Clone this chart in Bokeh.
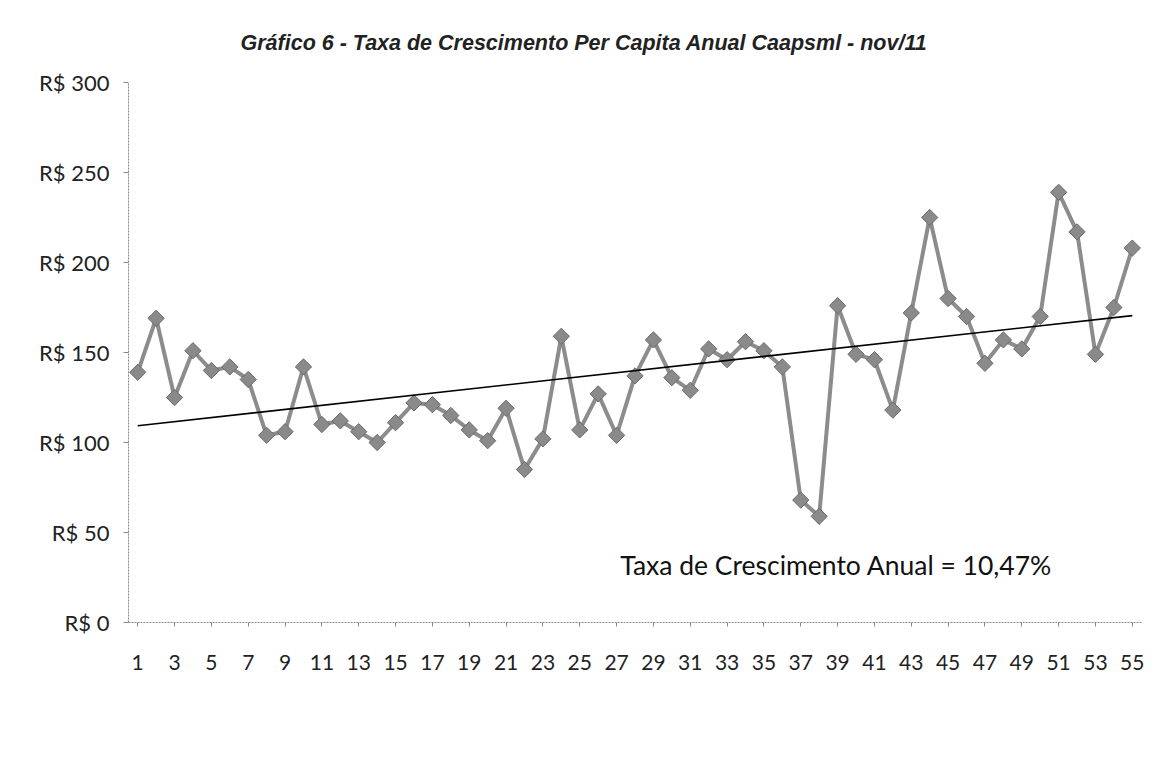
import numpy as np
from bokeh.plotting import figure
from bokeh.models import Range1d, FixedTicker, Label, ColumnDataSource
from bokeh.embed import file_html
from bokeh.resources import INLINE

# ---- data ----
periods = list(range(1, 56))
values = [139, 169, 125, 151, 140, 142, 135, 104, 106, 142,
          110, 112, 106, 100, 111, 122, 121, 115, 107, 101,
          119, 85, 102, 159, 107, 127, 104, 137, 157, 136,
          129, 152, 146, 156, 151, 142, 68, 59, 176, 149,
          146, 118, 172, 225, 180, 170, 144, 157, 152, 170,
          239, 217, 149, 175, 208]
# trend line end points
trend_x = [1, 55]
trend_y = [109.3, 170.5]
x_ticks = list(range(1, 56, 2))
y_ticks = [0, 50, 100, 150, 200, 250, 300]
y_tick_labels = ["R$ 0", "R$ 50", "R$ 100", "R$ 150", "R$ 200", "R$ 250", "R$ 300"]
title_text = "Gráfico 6 - Taxa de Crescimento Per Capita Anual Caapsml - nov/11"
note_text = "Taxa de Crescimento Anual = 10,47%"

W, H = 1146, 749
p = figure(width=W, height=H, output_backend="svg", toolbar_location=None,
           x_range=Range1d(0.5, 55.5), y_range=Range1d(0, 300),
           min_border_left=128, min_border_right=5, min_border_top=82,
           min_border_bottom=127)
p.outline_line_color = None
p.xgrid.visible = False
p.ygrid.visible = False
p.background_fill_color = "white"
p.border_fill_color = "white"

p.title.text = title_text
p.title.text_font = "Liberation Sans"
p.title.text_font_style = "bold italic"
p.title.text_font_size = "21.5px"
p.title.text_color = "#222222"
p.title.align = "left"
p.title.offset = 112
p.title.standoff = 56

src = ColumnDataSource(dict(x=periods, y=values))
p.line("x", "y", source=src, line_color="#8c8c8c", line_width=4)
p.scatter("x", "y", source=src, marker="square", angle=np.pi / 4, size=11.5,
          fill_color="#8a8a8a", line_color="#6a6a6a", line_width=1)
p.line(trend_x, trend_y, line_color="black", line_width=1.6)

p.add_layout(Label(x=27.2, y=32, text=note_text, text_font="Lato",
                   text_font_size="26.5px", text_color="#111111",
                   text_baseline="middle", text_align="left"))

ya = p.yaxis[0]
ya.ticker = FixedTicker(ticks=y_ticks)
ya.major_label_overrides = {t: l for t, l in zip(y_ticks, y_tick_labels)}
ya.major_label_text_font = "Lato"
ya.major_label_text_font_size = "22px"
ya.major_label_text_color = "#222222"
ya.axis_line_color = "#888888"
ya.axis_line_dash = "2 1"
ya.major_tick_line_color = "#888888"
ya.major_tick_out = 5
ya.major_tick_in = 0
ya.minor_tick_line_color = None
ya.major_label_standoff = 14

xa = p.xaxis[0]
xa.ticker = FixedTicker(ticks=x_ticks)
xa.major_label_text_font = "Lato"
xa.major_label_text_font_size = "21px"
xa.major_label_text_color = "#222222"
xa.axis_line_color = "#888888"
xa.axis_line_dash = "2 1"
xa.major_tick_line_color = "#888888"
xa.major_tick_out = 4
xa.major_tick_in = 0
xa.minor_tick_line_color = None
xa.major_label_standoff = 28

open("out.html", "w").write(file_html(p, INLINE))
